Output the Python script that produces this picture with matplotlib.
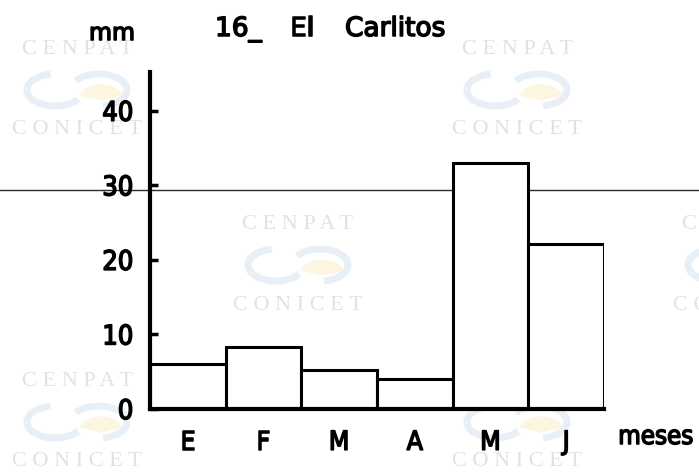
import matplotlib
matplotlib.use("Agg")
import matplotlib.pyplot as plt
from matplotlib.lines import Line2D
from matplotlib.patches import Arc, Wedge
import matplotlib.patheffects as pe

# ---- data ----
months = ['E', 'F', 'M', 'A', 'M', 'J']
precip_mm = [6.0, 8.3, 5.2, 4.0, 33.0, 22.1]
yticks = [0, 10, 20, 30, 40]
title_words = ["16_", "El", "Carlitos"]

W, H = 699, 472
fig = plt.figure(figsize=(W / 100, H / 100), dpi=100)
fig.patch.set_facecolor('white')

main_font = dict(family="DejaVu Sans", stretch="condensed", weight="normal")
thick = [pe.withStroke(linewidth=1.1, foreground="black")]


def fx(px):
    return px / W


def fy(py):
    return 1 - py / H


# ---- watermark tiles (background) ----
wm_centers = [(77, 50, 130), (517, 50, 130), (298, 225, 305), (738, 225, 305),
              (77, 382, 462), (517, 382, 462)]
for cx, y1, y2 in wm_centers:
    fig.text(fx(cx), fy(y1), "C E N P A T", family="Liberation Serif", fontsize=16,
             color="#e2e2e2", ha="center", va="center", zorder=-5)
    fig.text(fx(cx), fy(y2), "C O N I C E T", family="Liberation Serif", fontsize=16,
             color="#e2e2e2", ha="center", va="center", zorder=-5)
    ym = (y1 + y2) / 2
    a1 = Arc((fx(cx - 22), fy(ym)), fx(56), 32 / H, theta1=100, theta2=330,
             transform=fig.transFigure, color="#e8eff7", lw=5, zorder=-6)
    a2 = Arc((fx(cx + 22), fy(ym)), fx(56), 32 / H, theta1=-80, theta2=150,
             transform=fig.transFigure, color="#e8eff7", lw=5, zorder=-6)
    fig.add_artist(a1)
    fig.add_artist(a2)
    w = Wedge((fx(cx + 24), fy(ym + 10)), fx(22), 20, 160, transform=fig.transFigure,
              color="#fcf5e0", zorder=-6)
    fig.add_artist(w)

# ---- scan line across the page (behind bars) ----
fig.add_artist(Line2D([0, 1], [fy(190), fy(190)], transform=fig.transFigure,
                      color="#2a2a2a", lw=1.0, zorder=-1))

# ---- axes ----
ax = fig.add_axes([fx(150), 63 / H, 454 / W, 337 / H])
ax.patch.set_visible(False)
ax.bar(range(len(months)), precip_mm, width=1.0, align='edge',
       facecolor='white', edgecolor='black', linewidth=2.2, zorder=2)
ax.set_xlim(0, len(months))
ax.set_ylim(0, 45.2)
for s in ['top', 'right']:
    ax.spines[s].set_visible(False)
for s in ['left', 'bottom']:
    ax.spines[s].set_linewidth(3)
    ax.spines[s].set_zorder(3)

ax.set_yticks(yticks)
ax.set_yticklabels([str(v) for v in yticks], **main_font)
ax.tick_params(axis='y', direction='in', length=6, width=2.5, pad=12, labelsize=19.5)
ax.set_xticks([i + 0.5 for i in range(len(months))])
ax.set_xticklabels(months, **main_font)
ax.tick_params(axis='x', length=0, pad=15, labelsize=19)
for lab in ax.get_xticklabels() + ax.get_yticklabels():
    lab.set_path_effects(thick)

# ---- texts ----
fig.text(fx(112), fy(33), "mm", fontsize=17, ha="center", va="center",
         path_effects=thick)
fig.text(fx(215), fy(29), title_words[0], fontsize=19, ha="left", va="center",
         path_effects=thick)
fig.text(fx(290), fy(29), title_words[1], fontsize=19, ha="left", va="center",
         path_effects=thick)
fig.text(fx(345), fy(29), title_words[2], fontsize=19, ha="left", va="center",
         path_effects=thick)
fig.text(fx(656), fy(437), "meses", fontsize=18.5, ha="center", va="center",
         path_effects=thick, **main_font)

fig.savefig("out.png", dpi=100)
